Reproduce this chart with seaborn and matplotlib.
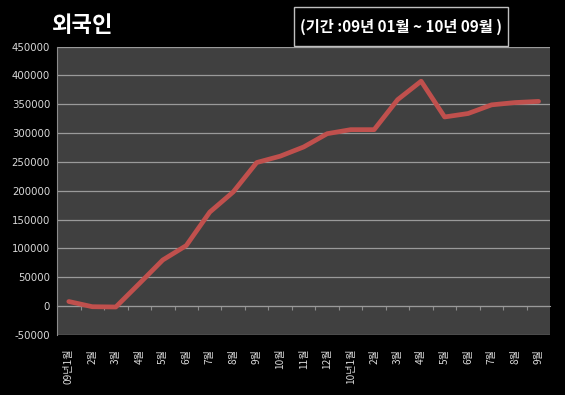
import matplotlib
matplotlib.use("Agg")
import matplotlib.pyplot as plt
from matplotlib.patches import Rectangle
import seaborn as sns
import pandas as pd

# -----------------------------
# Data
# -----------------------------
months = ["09년1월", "2월", "3월", "4월", "5월", "6월", "7월", "8월", "9월",
          "10월", "11월", "12월", "10년1월", "2월", "3월", "4월", "5월",
          "6월", "7월", "8월", "9월"]
foreigners = [8000, -1000, -1500, 39000, 80000, 105000, 163000, 198000,
              249000, 260000, 276000, 299000, 306000, 306000, 358000,
              390000, 328000, 334000, 349000, 353000, 355000]
y_ticks = list(range(-50000, 450001, 50000))

df = pd.DataFrame({"pos": range(len(months)), "value": foreigners})

# -----------------------------
# Style
# -----------------------------
sns.set_style("dark")
plt.rcParams["font.family"] = ["Noto Sans CJK KR", "DejaVu Sans"]

fig = plt.figure(figsize=(5.65, 3.95), dpi=100, facecolor="black")
ax = fig.add_axes([0.101, 0.152, 0.873, 0.730])
ax.set_facecolor("#404040")

sns.lineplot(data=df, x="pos", y="value", color="#c0504d", linewidth=3.4,
             ax=ax, legend=False)

ax.set_xlim(-0.5, len(months) - 0.5)
ax.set_ylim(-50000, 450000)
ax.set_yticks(y_ticks)
ax.set_yticklabels([str(t) for t in y_ticks], fontsize=7.3, color="#d9d9d9",
                   family="DejaVu Sans")
ax.tick_params(axis="y", length=3, color="#8c8c8c", pad=2)
ax.grid(axis="y", color="#9a9a9a", linewidth=0.9)
ax.grid(axis="x", visible=False)

ax.set_xticks(range(len(months)))
ax.set_xticklabels(months, rotation=90, fontsize=7.3, color="#d9d9d9")
ax.tick_params(axis="x", length=0, pad=10)
ax.set_xlabel("")
ax.set_ylabel("")

for side in ["top", "right", "bottom"]:
    ax.spines[side].set_visible(False)
ax.spines["left"].set_color("#8c8c8c")

# category axis sitting on the zero line, ticks between months
zero_axis = ax.secondary_xaxis(0.1)
zero_axis.set_xticks([i + 0.5 for i in range(len(months) - 1)])
zero_axis.set_xticklabels([])
zero_axis.tick_params(length=3, color="#8c8c8c", direction="out")
zero_axis.spines["bottom"].set_color("#9a9a9a")

# -----------------------------
# Title and period box
# -----------------------------
fig.text(0.092, 0.935, "외국인", color="white", fontsize=16,
         fontweight="bold", va="center")
fig.patches.append(Rectangle((0.520, 0.884), 0.379, 0.098,
                             transform=fig.transFigure, facecolor="black",
                             edgecolor="#bfbfbf", linewidth=1, zorder=5))
fig.text(0.710, 0.931, "(기간 :09년 01월 ~ 10년 09월 )", color="white",
         fontsize=11, fontweight="bold", ha="center", va="center", zorder=6)

fig.savefig("out.png", dpi=100, facecolor="black")
